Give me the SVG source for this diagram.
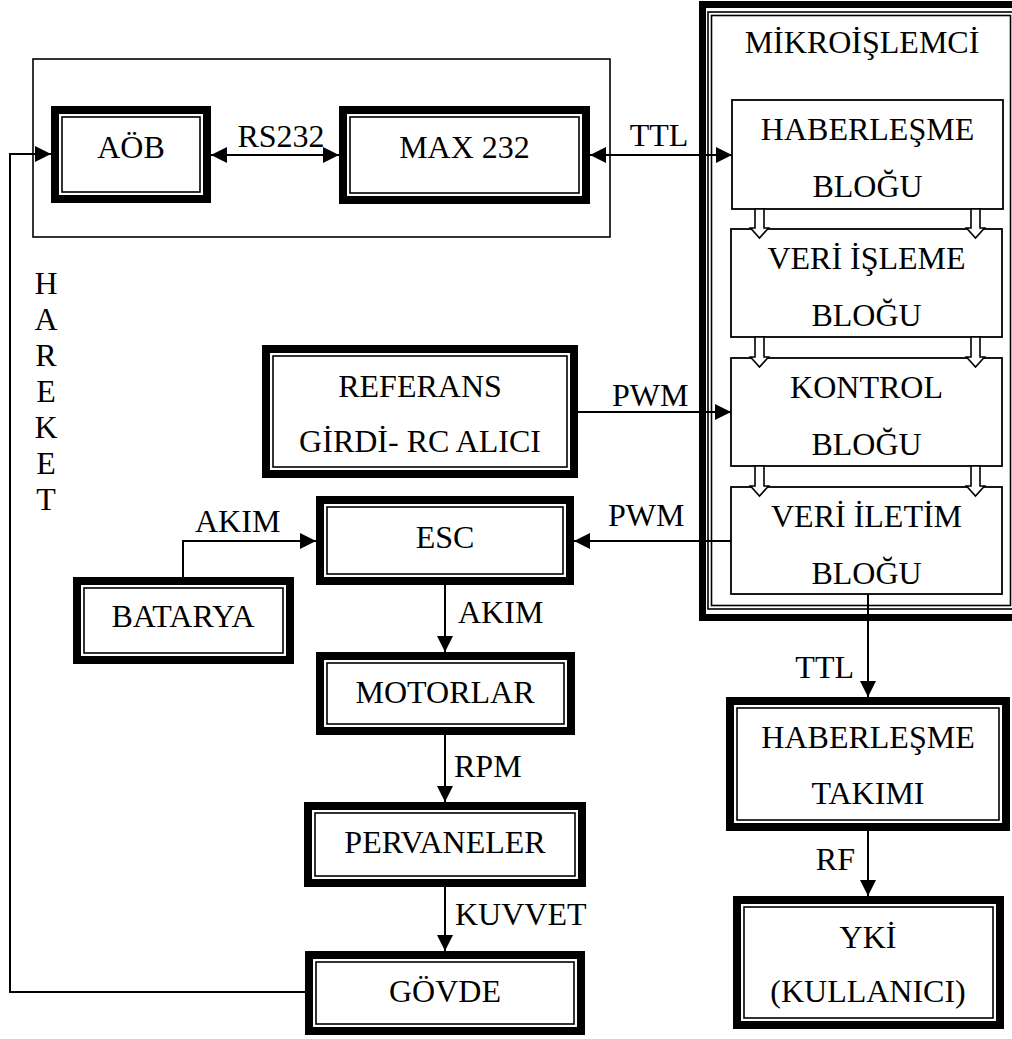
<svg xmlns="http://www.w3.org/2000/svg" width="1012" height="1039" viewBox="0 0 1012 1039">
<style>
text{font-family:"Liberation Serif","Times New Roman",serif;font-size:32px;fill:#000}
.c{text-anchor:middle}
.e{text-anchor:end}
.thick{fill:none;stroke:#000;stroke-width:8}
.thin{fill:none;stroke:#000;stroke-width:1.6}
.blk{fill:#fff;stroke:#000;stroke-width:1.8}
.cn{fill:none;stroke:#000;stroke-width:2}
.ha{fill:#fff;stroke:#000;stroke-width:1.6}
</style>
<defs>
<marker id="ah" viewBox="0 0 16 16" refX="16" refY="8" markerWidth="16" markerHeight="16" markerUnits="userSpaceOnUse" orient="auto-start-reverse"><path d="M0,0 L16,8 L0,16 z" fill="#000"/></marker>
</defs>
<rect width="1012" height="1039" fill="#fff"/>

<g id="container-pc">
<rect x="33" y="59" width="577" height="178" class="thin"/>
</g>

<g id="mikroislemci">
<rect x="702.5" y="4.5" width="400" height="613" stroke-width="7" fill="none" stroke="#000"/>
<rect x="708" y="12" width="400" height="597" class="thin"/>
<rect x="711.5" y="15.5" width="299" height="590" class="thin"/>
<text x="862" y="53" class="c">MİKROİŞLEMCİ</text>
</g>

<g id="haberlesme-blogu">
<rect x="732" y="100" width="271" height="109" class="blk"/>
<text x="867.5" y="140" class="c">HABERLEŞME</text>
<text x="867.5" y="197" class="c">BLOĞU</text>
</g>
<g id="veri-isleme-blogu">
<rect x="731" y="229" width="271" height="108" class="blk"/>
<text x="866.5" y="269" class="c">VERİ İŞLEME</text>
<text x="866.5" y="326" class="c">BLOĞU</text>
</g>
<g id="kontrol-blogu">
<rect x="731" y="358" width="271" height="108" class="blk"/>
<text x="866.5" y="398" class="c">KONTROL</text>
<text x="866.5" y="455" class="c">BLOĞU</text>
</g>
<g id="veri-iletim-blogu">
<rect x="731" y="487" width="271" height="107" class="blk"/>
<text x="866.5" y="527" class="c">VERİ İLETİM</text>
<text x="866.5" y="584" class="c">BLOĞU</text>
</g>

<g id="aob">
<rect x="55" y="110" width="152" height="89" class="thick"/>
<rect x="62" y="117" width="138" height="75" class="thin"/>
<text x="131" y="158" class="c">AÖB</text>
</g>
<g id="max232">
<rect x="343" y="110" width="243" height="90" class="thick"/>
<rect x="350" y="117" width="229" height="76" class="thin"/>
<text x="464.5" y="158" class="c">MAX 232</text>
</g>
<g id="referans">
<rect x="266" y="349" width="308" height="125" class="thick"/>
<rect x="273" y="356" width="294" height="111" class="thin"/>
<text x="420" y="397" class="c">REFERANS</text>
<text x="420" y="452" class="c">GİRDİ- RC ALICI</text>
</g>
<g id="esc">
<rect x="320" y="500" width="250" height="81" class="thick"/>
<rect x="327" y="507" width="236" height="67" class="thin"/>
<text x="445" y="548" class="c">ESC</text>
</g>
<g id="batarya">
<rect x="77" y="581" width="213" height="79" class="thick"/>
<rect x="84" y="588" width="199" height="65" class="thin"/>
<text x="183" y="627" class="c">BATARYA</text>
</g>
<g id="motorlar">
<rect x="320" y="656" width="251" height="75" class="thick"/>
<rect x="327" y="663" width="237" height="61" class="thin"/>
<text x="445" y="703" class="c">MOTORLAR</text>
</g>
<g id="pervaneler">
<rect x="308" y="806" width="274" height="77" class="thick"/>
<rect x="315" y="813" width="260" height="63" class="thin"/>
<text x="445" y="853" class="c">PERVANELER</text>
</g>
<g id="govde">
<rect x="309" y="955" width="272" height="76" class="thick"/>
<rect x="316" y="962" width="258" height="62" class="thin"/>
<text x="445" y="1002" class="c">GÖVDE</text>
</g>
<g id="haberlesme-takimi">
<rect x="730" y="701" width="276" height="126" class="thick"/>
<rect x="737" y="708" width="262" height="112" class="thin"/>
<text x="868" y="748" class="c">HABERLEŞME</text>
<text x="868" y="804" class="c">TAKIMI</text>
</g>
<g id="yki">
<rect x="737" y="900" width="263" height="125" class="thick"/>
<rect x="744" y="907" width="249" height="111" class="thin"/>
<text x="868" y="948" class="c">YKİ</text>
<text x="868" y="1002" class="c">(KULLANICI)</text>
</g>

<g id="connectors">
<path d="M759.5,209 V228 M975.5,209 V228" class="cn" stroke="none"/>
<polygon class="ha" points="755,209 764,209 764,228 768.5,228 759.5,238 750.5,228 755,228"/>
<polygon class="ha" points="971,209 980,209 980,228 984.5,228 975.5,238 966.5,228 971,228"/>
<polygon class="ha" points="755,337 764,337 764,357 768.5,357 759.5,367 750.5,357 755,357"/>
<polygon class="ha" points="971,337 980,337 980,357 984.5,357 975.5,367 966.5,357 971,357"/>
<polygon class="ha" points="755,466 764,466 764,486 768.5,486 759.5,496 750.5,486 755,486"/>
<polygon class="ha" points="971,466 980,466 980,486 984.5,486 975.5,496 966.5,486 971,486"/>

<path d="M211,155 H339" class="cn" marker-start="url(#ah)" marker-end="url(#ah)"/>
<path d="M590,155 H732" class="cn" marker-start="url(#ah)" marker-end="url(#ah)"/>
<path d="M305,992 H10 V154 H51" class="cn" marker-end="url(#ah)"/>
<path d="M578,412 H731" class="cn" marker-end="url(#ah)"/>
<path d="M731,541 H574" class="cn" marker-end="url(#ah)"/>
<path d="M183,577 V541 H316" class="cn" marker-end="url(#ah)"/>
<path d="M445,585 V652" class="cn" marker-end="url(#ah)"/>
<path d="M445,735 V802" class="cn" marker-end="url(#ah)"/>
<path d="M445,887 V951" class="cn" marker-end="url(#ah)"/>
<path d="M868,594 V697" class="cn" marker-end="url(#ah)"/>
<path d="M868,831 V896" class="cn" marker-end="url(#ah)"/>

<text x="281" y="147" class="c">RS232</text>
<text x="659" y="146" class="c">TTL</text>
<text x="612" y="406">PWM</text>
<text x="608" y="526">PWM</text>
<text x="195" y="532">AKIM</text>
<text x="458" y="623">AKIM</text>
<text x="454" y="777">RPM</text>
<text x="455" y="925">KUVVET</text>
<text x="854" y="678" class="e">TTL</text>
<text x="855" y="870" class="e">RF</text>
</g>

<g id="hareket-label" font-size="30">
<text x="46" y="294" class="c" font-size="30">H</text>
<text x="46" y="330" class="c" font-size="30">A</text>
<text x="46" y="366" class="c" font-size="30">R</text>
<text x="46" y="402" class="c" font-size="30">E</text>
<text x="46" y="438" class="c" font-size="30">K</text>
<text x="46" y="474" class="c" font-size="30">E</text>
<text x="46" y="510" class="c" font-size="30">T</text>
</g>
</svg>
